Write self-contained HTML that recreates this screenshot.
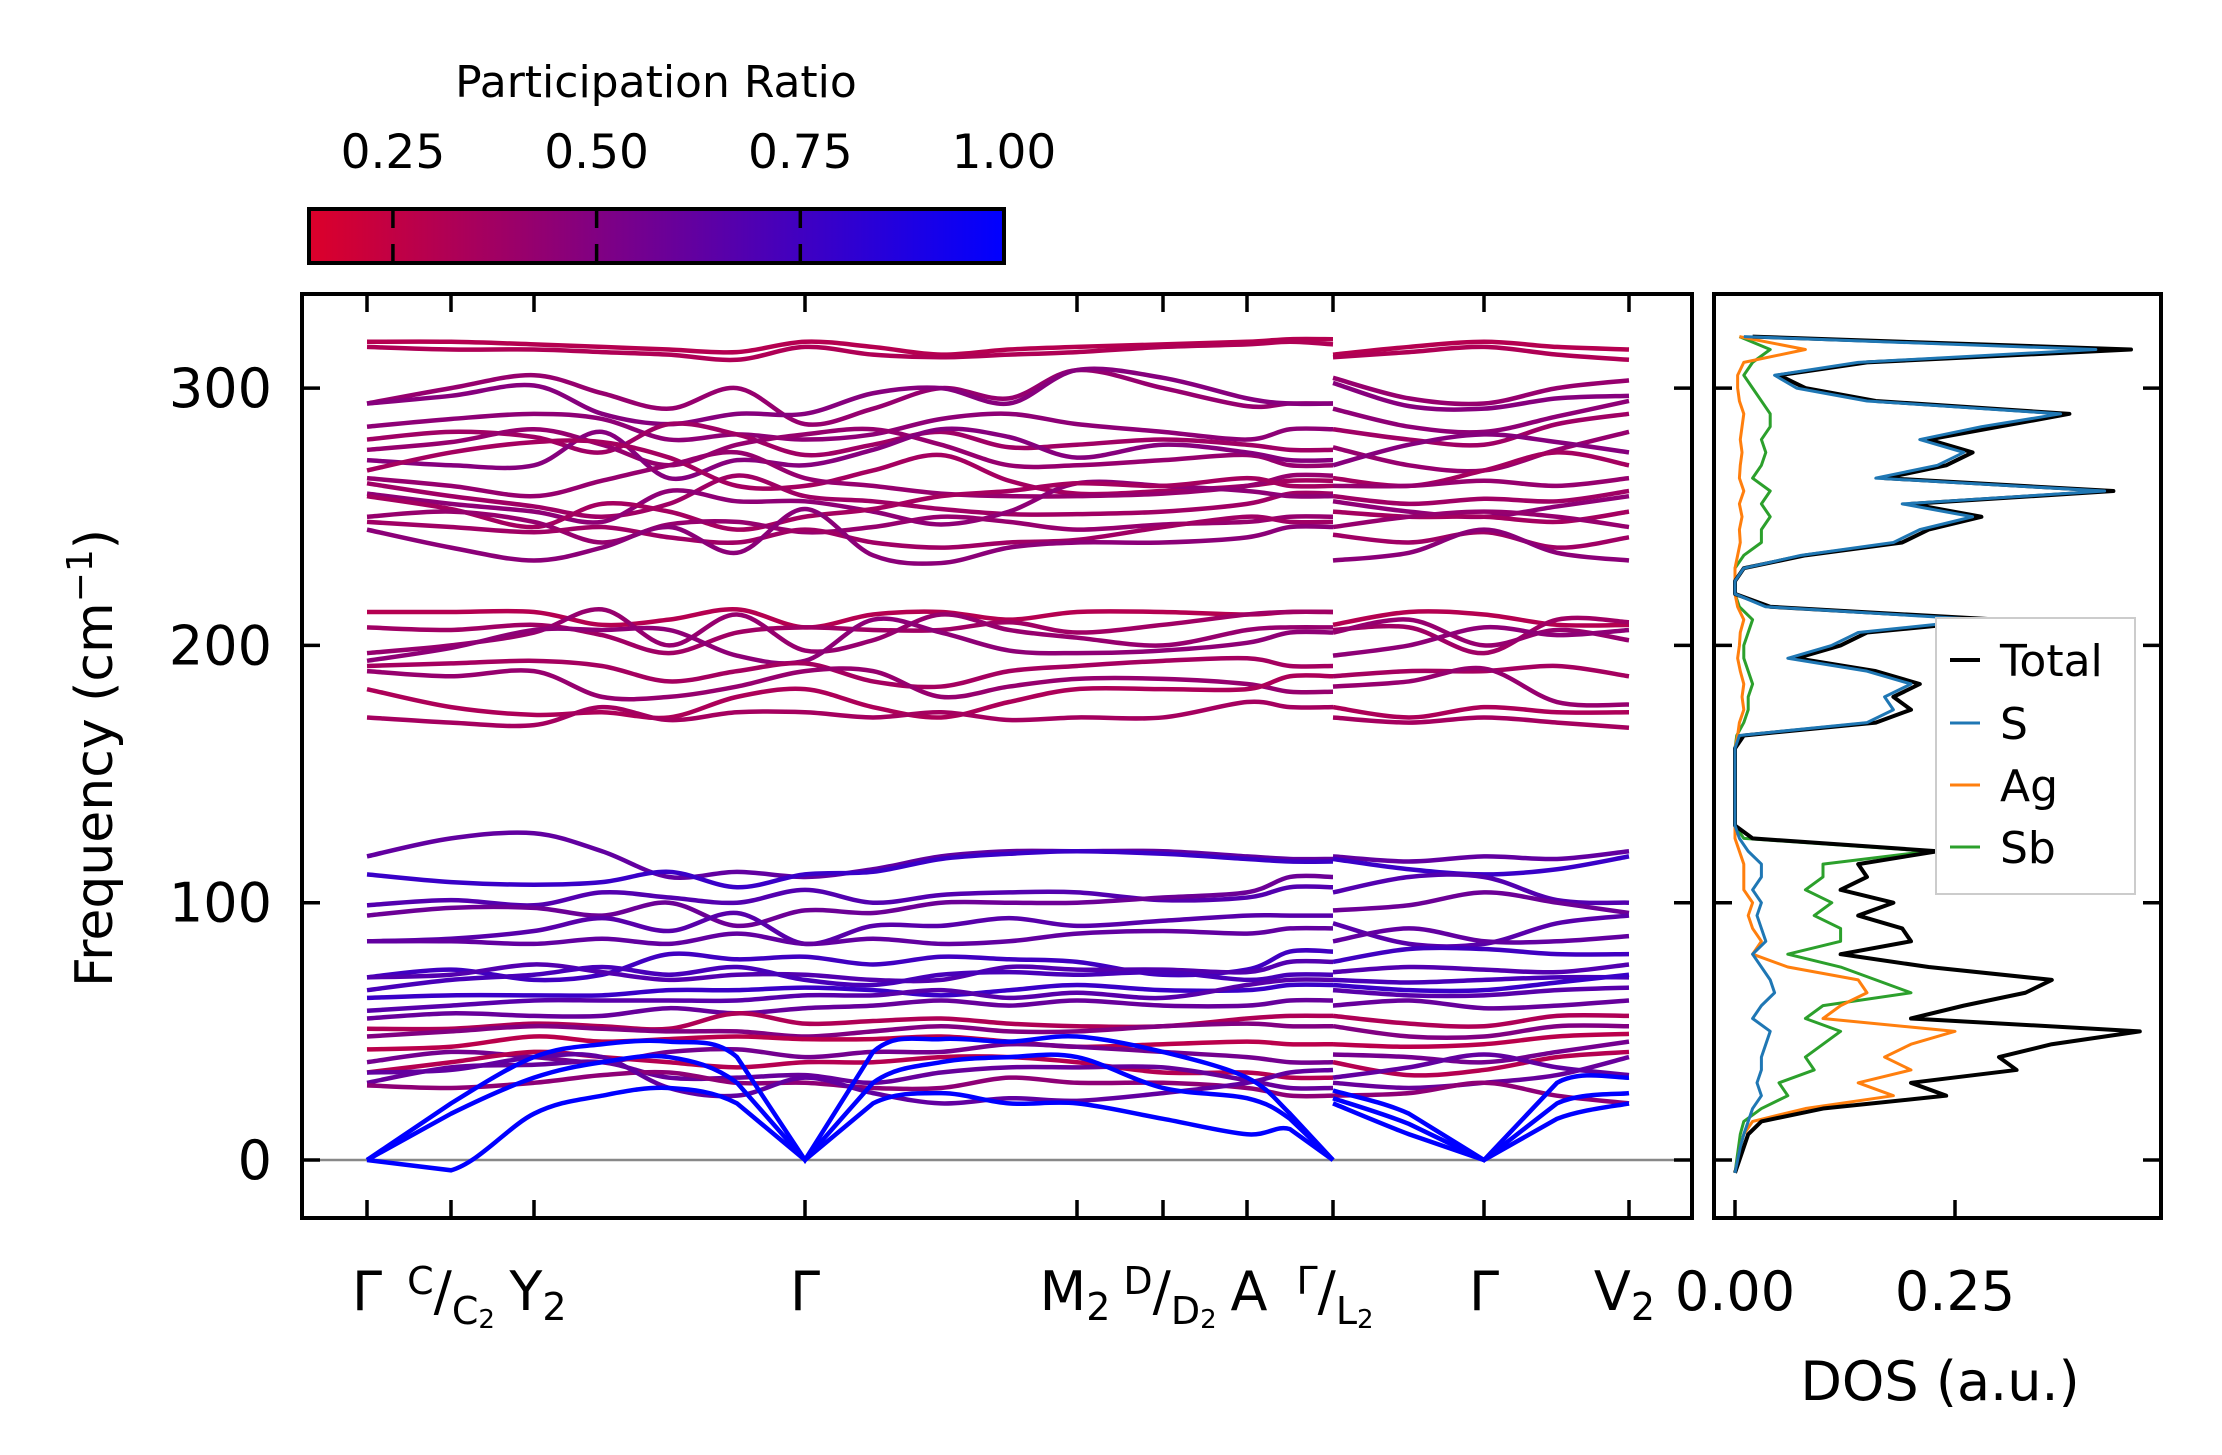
<!DOCTYPE html>
<html><head><meta charset="utf-8"><style>
html,body{margin:0;padding:0;background:#fff;}
svg{display:block;font-family:"DejaVu Sans","Liberation Sans",sans-serif;}
</style></head><body>
<svg id="chart" width="2222" height="1455" viewBox="0 0 2222 1455" xmlns="http://www.w3.org/2000/svg">
<defs>
<linearGradient id="cbg" x1="0" x2="1" y1="0" y2="0"><stop offset="0" stop-color="rgb(220,0,42)"/><stop offset="1" stop-color="rgb(0,0,255)"/></linearGradient>
<clipPath id="mainclip"><rect x="302" y="294" width="1390" height="924"/></clipPath>
<clipPath id="dosclip"><rect x="1714" y="294" width="447" height="924"/></clipPath>
</defs>
<g>
<text x="656" y="97" font-size="44" text-anchor="middle">Participation Ratio</text>
<rect x="309" y="209" width="695" height="54" fill="url(#cbg)" stroke="#000" stroke-width="4"/>
</g>
<g id="cbticks"></g>
<g id="bands" clip-path="url(#mainclip)"></g>
<g id="dos" clip-path="url(#dosclip)"></g>
<g id="axes"></g>
<g>
<rect x="1936" y="618" width="199" height="276" fill="#fff" stroke="#ccc" stroke-width="2"/>
<line x1="1950" y1="660" x2="1980" y2="660" stroke="#000" stroke-width="4"/>
<text x="2000" y="676" font-size="44">Total</text>
<line x1="1950" y1="723" x2="1980" y2="723" stroke="#1f77b4" stroke-width="3"/>
<text x="2000" y="739" font-size="44">S</text>
<line x1="1950" y1="785" x2="1980" y2="785" stroke="#ff7f0e" stroke-width="3"/>
<text x="2000" y="801" font-size="44">Ag</text>
<line x1="1950" y1="847" x2="1980" y2="847" stroke="#2ca02c" stroke-width="3"/>
<text x="2000" y="863" font-size="44">Sb</text>
</g>
<text transform="translate(112,758) rotate(-90)" font-size="52" text-anchor="middle">Frequency (cm<tspan font-size="36" dy="-20">−1</tspan><tspan dy="20">)</tspan></text>
<text x="1940" y="1400" font-size="54" text-anchor="middle">DOS (a.u.)</text>
<g font-size="54">
<text x="367" y="1310" text-anchor="middle">Γ</text>
<text x="451" y="1310" text-anchor="middle"><tspan font-size="38" dy="-16">C</tspan><tspan dy="16">/</tspan><tspan font-size="38" dy="14">C</tspan><tspan font-size="26" dy="4">2</tspan></text>
<text x="538" y="1310" text-anchor="middle">Y<tspan font-size="38" dy="10">2</tspan></text>
<text x="805" y="1310" text-anchor="middle">Γ</text>
<text x="1075" y="1310" text-anchor="middle">M<tspan font-size="38" dy="10">2</tspan></text>
<text x="1170" y="1310" text-anchor="middle"><tspan font-size="38" dy="-16">D</tspan><tspan dy="16">/</tspan><tspan font-size="38" dy="14">D</tspan><tspan font-size="26" dy="4">2</tspan></text>
<text x="1249" y="1310" text-anchor="middle">A</text>
<text x="1335" y="1310" text-anchor="middle"><tspan font-size="38" dy="-16">Γ</tspan><tspan dy="16">/</tspan><tspan font-size="38" dy="14">L</tspan><tspan font-size="26" dy="4">2</tspan></text>
<text x="1484" y="1310" text-anchor="middle">Γ</text>
<text x="1655" y="1310" text-anchor="end">V<tspan font-size="38" dy="10">2</tspan></text>
</g>
</svg>
<script>
// ---- data ----
const kDist = [0,84,167,235,302,370,438,506,574,642,710,796,880,923,966, 966,1042,1117,1190,1262];
const kTicks = [0,84,167,438,710,796,880,966,1117,1262];
const yTicks = [0,100,200,300];
const cbTicks = [0.25,0.5,0.75,1.0];
const cbMin = 0.147, cbMax = 1.0;
const bands = [
[318,318,317,316,315,314,318,316,313,315,316,317,318,319,319, 313,316,318,316,315],
[316,315,315,314,313,311,316,313,312,313,314,316,317,318,317, 312,314,316,313,311],
[294,300,305,298,292,300,286,292,300,296,307,300,293,294,294, 304,296,294,300,303],
[294,297,301,290,286,290,290,298,300,294,307,304,296,294,294, 302,293,292,296,297],
[285,288,290,288,280,282,280,282,288,290,286,283,280,284,284, 292,285,283,289,295],
[280,283,281,275,286,282,274,278,283,277,278,280,278,276,276, 284,280,278,286,290],
[276,279,284,278,270,278,282,284,278,270,270,272,274,270,270, 277,270,268,276,283],
[272,270,270,283,265,272,270,276,284,281,273,278,275,272,272, 270,278,282,279,275],
[268,275,279,279,273,262,262,268,274,264,259,260,262,264,264, 265,262,268,275,270],
[265,262,258,264,270,275,265,262,259,258,258,259,262,266,266, 262,262,264,262,265],
[263,258,254,250,255,266,258,256,253,251,251,252,255,259,259, 258,255,257,256,260],
[259,255,252,248,260,256,256,252,247,252,263,262,260,258,258, 256,252,250,254,258],
[258,253,246,255,252,245,250,253,258,260,263,262,265,262,262, 252,250,250,248,252],
[250,252,248,240,247,248,244,246,250,248,245,247,248,250,250, 246,250,252,250,246],
[248,246,244,246,242,240,245,240,238,240,241,246,250,248,248, 243,240,244,238,242],
[245,238,233,238,246,236,253,235,232,238,240,240,242,246,246, 233,236,245,236,233],
[213,213,213,208,210,214,207,212,213,210,213,213,212,213,213, 208,213,212,208,208],
[207,206,208,204,197,205,207,206,206,209,205,208,212,213,213, 206,207,197,210,209],
[197,200,205,214,200,212,198,202,212,206,203,200,206,207,207, 205,210,200,206,202],
[194,199,206,206,206,196,194,210,205,198,197,198,201,205,205, 196,200,207,204,206],
[192,193,194,192,186,190,193,186,184,190,192,194,195,192,192, 188,190,190,192,188],
[190,188,190,180,180,184,190,190,180,184,187,187,185,182,182, 184,186,191,178,177],
[183,176,173,174,172,180,183,176,172,178,183,183,183,188,188, 176,172,176,174,174],
[172,170,169,176,171,174,174,172,174,171,172,172,178,176,176, 172,170,172,170,168],
[118,125,127,120,110,112,110,113,118,120,120,120,118,117,117, 118,116,118,117,120],
[111,108,107,108,112,106,111,112,117,119,120,119,117,116,116, 117,113,111,113,118],
[99,101,99,104,102,100,105,100,103,104,104,101,102,106,106, 104,110,110,101,100],
[95,98,98,95,100,91,97,96,100,100,100,102,104,110,110, 97,99,104,100,96],
[85,86,89,94,89,96,84,91,91,94,91,93,95,95,95, 92,84,84,92,95],
[85,85,84,86,84,88,84,86,84,85,88,89,88,90,90, 85,90,85,85,87],
[71,74,70,72,80,78,79,76,79,78,77,72,74,81,81, 77,82,82,80,80],
[71,72,76,73,70,72,72,70,70,75,74,74,73,77,77, 73,75,74,73,76],
[66,70,72,75,72,75,70,68,72,73,72,73,70,72,72, 70,69,70,71,71],
[63,64,64,64,66,66,67,66,64,66,68,66,66,68,68, 68,66,66,69,72],
[58,60,62,62,62,62,64,64,66,63,65,63,68,70,70, 66,64,64,66,67],
[55,57,56,56,59,57,59,60,62,60,62,60,60,62,62, 60,62,59,60,62],
[51,51,53,52,51,57,53,54,55,53,52,52,55,56,56, 56,53,52,56,56],
[48,50,52,51,50,50,48,50,52,50,50,52,53,52,52, 52,48,48,52,52],
[43,44,48,46,47,48,47,47,48,46,44,45,46,45,45, 45,44,45,48,49],
[38,42,40,38,42,43,40,42,42,45,44,42,40,38,38, 41,40,38,42,46],
[34,38,42,40,38,36,38,38,40,40,38,34,34,32,32, 38,33,35,40,42],
[30,36,37,38,32,32,33,30,34,36,36,36,31,28,28, 30,28,30,33,40],
[29,28,30,33,34,30,30,28,28,32,30,30,28,25,25, 25,26,30,25,22],
[34,35,40,40,28,25,32,26,22,24,23,26,30,34,35, 32,36,41,36,33],
[0,22,40,45,46,40,0,42,47,46,48,42,32,18,0, 27,18,0,30,32],
[0,18,32,38,40,30,0,30,38,40,40,28,24,16,0, 24,14,0,22,26],
[0,-4,18,25,28,22,0,22,26,22,22,16,10,12,0, 22,10,0,16,22]
];
const bandPR = [0.3,0.32,0.42,0.48,0.45,0.38,0.42,0.48,0.36,0.42,0.38,0.45,0.36,0.42,0.38,0.46,
0.3,0.38,0.42,0.45,0.36,0.42,0.33,0.36,
0.62,0.78,0.68,0.58,0.66,0.62,0.75,0.68,0.72,0.78,0.66,0.6,0.32,0.5,0.28,0.55,0.3,0.6,0.45,0.62,
1,1,1];
const dosFreq = [-5,0,5,10,15,20,25,30,35,40,45,50,55,60,65,70,75,80,85,90,95,100,105,110,115,120,125,130,135,140,145,150,155,160,165,170,175,180,185,190,195,200,205,210,215,220,225,230,235,240,245,250,255,260,265,270,275,280,285,290,295,300,305,310,315,320];
const dosTotal = [0,0.005,0.01,0.015,0.03,0.1,0.24,0.2,0.32,0.3,0.36,0.46,0.2,0.26,0.33,0.36,0.22,0.12,0.2,0.19,0.14,0.18,0.12,0.15,0.14,0.23,0.02,0,0,0,0,0,0,0,0.01,0.16,0.2,0.18,0.21,0.16,0.07,0.12,0.15,0.3,0.04,0,0,0.01,0.08,0.19,0.22,0.28,0.2,0.43,0.17,0.24,0.27,0.22,0.3,0.38,0.16,0.08,0.05,0.15,0.45,0.02];
const dosS = [0,0.003,0.006,0.01,0.015,0.02,0.03,0.025,0.03,0.03,0.035,0.04,0.02,0.03,0.045,0.04,0.03,0.02,0.035,0.03,0.025,0.03,0.02,0.03,0.03,0.015,0.005,0,0,0,0,0,0,0,0.005,0.15,0.18,0.17,0.2,0.15,0.06,0.11,0.14,0.28,0.035,0,0,0.01,0.075,0.18,0.21,0.27,0.19,0.42,0.16,0.23,0.26,0.21,0.28,0.37,0.15,0.07,0.045,0.14,0.41,0.01];
const dosAg = [0,0.003,0.006,0.01,0.02,0.08,0.18,0.14,0.2,0.17,0.2,0.25,0.1,0.12,0.15,0.14,0.06,0.02,0.03,0.02,0.015,0.02,0.01,0.01,0.01,0.005,0,0,0,0,0,0,0,0,0.003,0.005,0.01,0.008,0.01,0.006,0.003,0.005,0.006,0.01,0.003,0,0,0,0.003,0.006,0.005,0.008,0.005,0.01,0.005,0.006,0.008,0.006,0.008,0.01,0.005,0.003,0.003,0.01,0.08,0.005];
const dosSb = [0,0.002,0.004,0.006,0.01,0.03,0.06,0.05,0.09,0.08,0.1,0.12,0.08,0.1,0.2,0.16,0.12,0.06,0.12,0.12,0.09,0.11,0.08,0.1,0.1,0.22,0.01,0,0,0,0,0,0,0,0.002,0.01,0.015,0.015,0.02,0.015,0.01,0.01,0.015,0.02,0.005,0,0,0,0.01,0.03,0.03,0.04,0.03,0.04,0.02,0.03,0.035,0.03,0.04,0.04,0.03,0.02,0.01,0.02,0.04,0.005];
const dosTicks = [0,0.25];

// ---- scales ----
const NS='http://www.w3.org/2000/svg';
const X0=302,X1=1692,Y0=294,Y1=1218,DX0=1714,DX1=2161;
const xK = d => 367 + d*(1629-367)/1262;
const yF = f => 1160 - f*2.573;
const xD = v => 1735 + v*880;
const xCB = v => 309 + (v-cbMin)/(cbMax-cbMin)*695;
function prColor(p){const t=Math.max(0,Math.min(1,(p-cbMin)/(cbMax-cbMin)));return `rgb(${Math.round(220*(1-t))},0,${Math.round(42+213*t)})`;}
function mk(tag,attrs,parent){const e=document.createElementNS(NS,tag);for(const k in attrs)e.setAttribute(k,attrs[k]);parent.appendChild(e);return e;}
function spline(pts,vals,acoustic){let d=`M${pts[0][0]},${pts[0][1]}`;for(let i=0;i<pts.length-1;i++){const p1=pts[i],p2=pts[i+1];
  if(acoustic&&(vals[i]===0||vals[i+1]===0)){d+=`L${p2[0]},${p2[1]}`;continue;}
  const p0=pts[Math.max(0,i-1)],p3=pts[Math.min(pts.length-1,i+2)];const c1=[p1[0]+(p2[0]-p0[0])/6,p1[1]+(p2[1]-p0[1])/6],c2=[p2[0]-(p3[0]-p1[0])/6,p2[1]-(p3[1]-p1[1])/6];d+=`C${c1[0]},${c1[1]} ${c2[0]},${c2[1]} ${p2[0]},${p2[1]}`;}return d;}

// ---- bands ----
const gB=document.getElementById('bands');
const zl=mk('line',{x1:X0,x2:X1,y1:yF(0),y2:yF(0),stroke:'#888','stroke-width':2.5},gB);


bands.forEach((b,i)=>{
  const acoustic = bandPR[i]>=1;
  [[0,15],[15,20]].forEach(([s,e],part)=>{
    const pts=[],vals=[];for(let j=s;j<e;j++){pts.push([xK(kDist[j]),yF(b[j])]);vals.push(b[j]);}
    const p=mk('path',{d:spline(pts,vals,acoustic),fill:'none',stroke:prColor(bandPR[i]),'stroke-width':4.5},gB);
    
    
  });
});

// ---- DOS ----
const gD=document.getElementById('dos');
[[dosSb,'#2ca02c',3,'dos-sb'],[dosAg,'#ff7f0e',3,'dos-ag'],[dosTotal,'#000',4,'dos-total'],[dosS,'#1f77b4',3,'dos-s']].forEach(([arr,c,w,n])=>{
  const pts=arr.map((v,j)=>xD(v)+','+yF(dosFreq[j])).join(' ');
  const pl=mk('polyline',{points:pts,fill:'none',stroke:c,'stroke-width':w,'stroke-linejoin':'round'},gD);
  
  
});

// ---- axes ----
const gA=document.getElementById('axes');
const mf=mk('rect',{x:X0,y:Y0,width:X1-X0,height:Y1-Y0,fill:'none',stroke:'#000','stroke-width':4},gA);


const df=mk('rect',{x:DX0,y:Y0,width:DX1-DX0,height:Y1-Y0,fill:'none',stroke:'#000','stroke-width':4},gA);


const TL=18;
kTicks.forEach(d=>{const x=xK(d);
  const t1=mk('line',{x1:x,x2:x,y1:Y1,y2:Y1-TL,stroke:'#000','stroke-width':3.5},gA);
  
  
  const t2=mk('line',{x1:x,x2:x,y1:Y0,y2:Y0+TL,stroke:'#000','stroke-width':3.5},gA);
  
  
});
yTicks.forEach(f=>{const y=yF(f);
  [[X0,X0+TL],[X1,X1-TL],[DX0,DX0+TL],[DX1,DX1-TL]].forEach(([a,b])=>{
    const t=mk('line',{x1:a,x2:b,y1:y,y2:y,stroke:'#000','stroke-width':3.5},gA);
    
    
  });
  const tx=mk('text',{x:272,y:y+19,'font-size':54,'text-anchor':'end'},gA);
  tx.textContent=String(f);
  
  
});
dosTicks.forEach(v=>{const x=xD(v);
  const t=mk('line',{x1:x,x2:x,y1:Y1,y2:Y1-TL,stroke:'#000','stroke-width':3.5},gA);
  
  
  const tx=mk('text',{x:x,y:1310,'font-size':54,'text-anchor':'middle'},gA);
  tx.textContent=v.toFixed(2);
  
  
});
// ---- colorbar ticks ----
const gC=document.getElementById('cbticks');
cbTicks.forEach(v=>{const x=xCB(v);
  if(v<1){
    const a=mk('line',{x1:x,x2:x,y1:209,y2:228,stroke:'#000','stroke-width':3.5},gC);
    
    
    const b=mk('line',{x1:x,x2:x,y1:244,y2:263,stroke:'#000','stroke-width':3.5},gC);
    
    
  }
  const tx=mk('text',{x:x,y:168,'font-size':47,'text-anchor':'middle'},gC);
  tx.textContent=v.toFixed(2);
  
  
});
</script>
</body></html>
